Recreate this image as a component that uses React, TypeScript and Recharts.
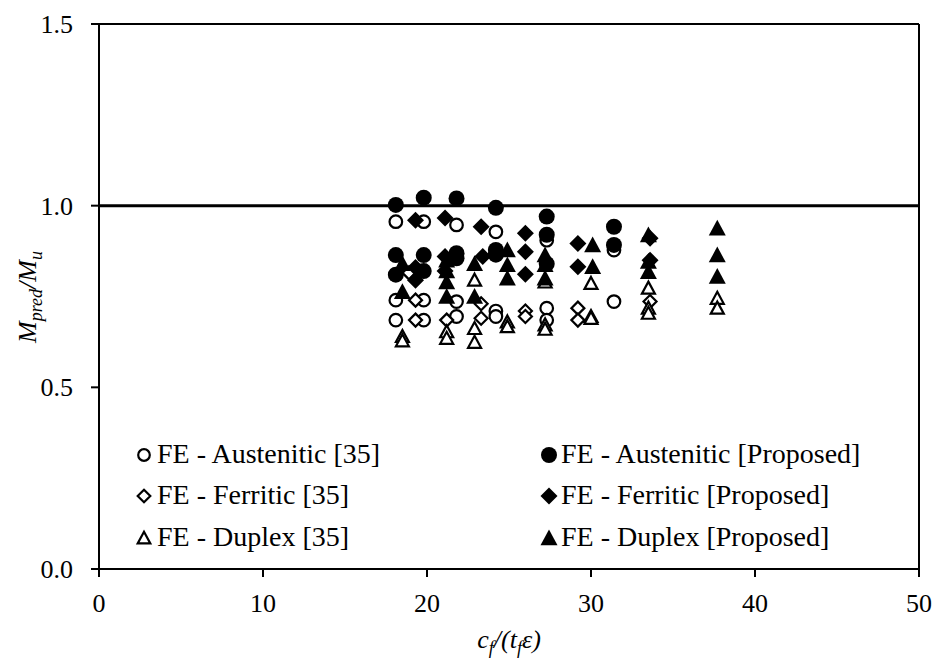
import React from 'react';
import { ScatterChart, Scatter, XAxis, YAxis, ReferenceLine, Legend } from 'recharts';

const FONT = "'Liberation Serif', 'Times New Roman', serif";

const xTicks = [0, 10, 20, 30, 40, 50];
const yTicks = [0, 0.5, 1.0, 1.5];

const austenitic35: [number, number][] = [
  [18.1, 0.956], [18.1, 0.74], [18.1, 0.685],
  [19.8, 0.956], [19.8, 0.74], [19.8, 0.685],
  [21.8, 0.947], [21.8, 0.736], [21.8, 0.695],
  [24.2, 0.928], [24.2, 0.71], [24.2, 0.695],
  [27.3, 0.905], [27.3, 0.718], [27.3, 0.685],
  [31.4, 0.878], [31.4, 0.736],
];

const austeniticProp: [number, number][] = [
  [18.1, 1.002], [18.1, 0.864], [18.1, 0.81],
  [19.8, 1.022], [19.8, 0.864], [19.8, 0.82],
  [21.8, 1.02], [21.8, 0.869], [21.8, 0.855],
  [24.2, 0.994], [24.2, 0.878], [24.2, 0.865],
  [27.3, 0.97], [27.3, 0.92], [27.3, 0.84],
  [31.4, 0.942], [31.4, 0.892],
];

const ferritic35: [number, number][] = [
  [18.9, 0.815], [19.3, 0.74], [19.3, 0.685],
  [21.2, 0.685],
  [23.3, 0.73], [23.3, 0.69],
  [26.0, 0.71], [26.0, 0.695],
  [29.2, 0.718], [29.2, 0.685],
  [33.6, 0.736],
];

const ferriticProp: [number, number][] = [
  [19.3, 0.96], [19.3, 0.83], [19.3, 0.795],
  [21.1, 0.966], [21.1, 0.86], [21.1, 0.82],
  [23.3, 0.942], [23.4, 0.86],
  [26.0, 0.924], [26.0, 0.873], [26.0, 0.811],
  [29.2, 0.896], [29.2, 0.832],
  [33.6, 0.91], [33.6, 0.85],
];

const duplex35: [number, number][] = [
  [18.5, 0.64], [18.5, 0.628],
  [21.2, 0.653], [21.2, 0.635],
  [22.9, 0.795], [22.9, 0.662], [22.9, 0.624],
  [24.9, 0.68], [24.9, 0.667],
  [27.2, 0.79], [27.2, 0.672], [27.2, 0.66],
  [30.0, 0.786], [30.0, 0.695], [30.0, 0.69],
  [33.5, 0.773], [33.5, 0.718], [33.5, 0.704],
  [37.7, 0.745], [37.7, 0.718],
];

const duplexProp: [number, number][] = [
  [18.5, 0.763], [18.5, 0.84],
  [21.2, 0.85], [21.2, 0.82], [21.2, 0.79], [21.2, 0.75],
  [22.9, 0.84], [22.9, 0.75],
  [24.9, 0.878], [24.9, 0.837], [24.9, 0.80],
  [27.2, 0.864], [27.2, 0.837], [27.2, 0.80],
  [30.1, 0.892], [30.1, 0.832],
  [33.5, 0.919], [33.5, 0.846], [33.5, 0.818],
  [37.7, 0.938], [37.7, 0.864], [37.7, 0.805],
];

const legendLabels = [
  'FE - Austenitic [35]',
  'FE - Austenitic [Proposed]',
  'FE - Ferritic [35]',
  'FE - Ferritic [Proposed]',
  'FE - Duplex [35]',
  'FE - Duplex [Proposed]',
];

const toPts = (a: [number, number][]) => a.map(([x, y]) => ({ x, y }));

const SW = 2.2;

const drawOpenCircle = (cx: number, cy: number, r = 6.3) => (
  <circle cx={cx} cy={cy} r={r} fill="#fff" stroke="#000" strokeWidth={SW} />
);
const drawFilledCircle = (cx: number, cy: number, r = 8) => (
  <circle cx={cx} cy={cy} r={r} fill="#000" />
);
const drawOpenDiamond = (cx: number, cy: number, s = 6.5) => (
  <polygon points={`${cx},${cy - s} ${cx + s},${cy} ${cx},${cy + s} ${cx - s},${cy}`} fill="#fff" stroke="#000" strokeWidth={SW} />
);
const drawFilledDiamond = (cx: number, cy: number, s = 8.5) => (
  <polygon points={`${cx},${cy - s} ${cx + s},${cy} ${cx},${cy + s} ${cx - s},${cy}`} fill="#000" />
);
const drawOpenTriangle = (cx: number, cy: number, s = 6.5) => (
  <polygon points={`${cx},${cy - s} ${cx + s},${cy + s * 0.85} ${cx - s},${cy + s * 0.85}`} fill="#fff" stroke="#000" strokeWidth={SW} strokeLinejoin="miter" />
);
const drawFilledTriangle = (cx: number, cy: number, s = 8.5) => (
  <polygon points={`${cx},${cy - s} ${cx + s},${cy + s * 0.85} ${cx - s},${cy + s * 0.85}`} fill="#000" />
);

const OpenCircle = (p: any) => drawOpenCircle(p.cx, p.cy);
const FilledCircle = (p: any) => drawFilledCircle(p.cx, p.cy);
const OpenDiamond = (p: any) => drawOpenDiamond(p.cx, p.cy);
const FilledDiamond = (p: any) => drawFilledDiamond(p.cx, p.cy);
const OpenTriangle = (p: any) => drawOpenTriangle(p.cx, p.cy);
const FilledTriangle = (p: any) => drawFilledTriangle(p.cx, p.cy);

const LegendContent = () => {
  const rows = [33, 74, 116];
  const leftM = 19, leftT = 32, rightM = 424, rightT = 436;
  const ts = { fontFamily: FONT, fontSize: 28, fill: '#000' } as const;
  return (
    <svg width={760} height={130} style={{ display: 'block', overflow: 'visible', fontFamily: FONT }}>
      {drawOpenCircle(leftM, rows[0] - 8, 5.8)}
      <text x={leftT} y={rows[0]} {...ts}>{legendLabels[0]}</text>
      {drawFilledCircle(rightM, rows[0] - 8, 8)}
      <text x={rightT} y={rows[0]} {...ts}>{legendLabels[1]}</text>
      {drawOpenDiamond(leftM, rows[1] - 8, 6.3)}
      <text x={leftT} y={rows[1]} {...ts}>{legendLabels[2]}</text>
      {drawFilledDiamond(rightM, rows[1] - 8, 8.5)}
      <text x={rightT} y={rows[1]} {...ts}>{legendLabels[3]}</text>
      {drawOpenTriangle(leftM, rows[2] - 8, 6.3)}
      <text x={leftT} y={rows[2]} {...ts}>{legendLabels[4]}</text>
      {drawFilledTriangle(rightM, rows[2] - 8, 8.5)}
      <text x={rightT} y={rows[2]} {...ts}>{legendLabels[5]}</text>
    </svg>
  );
};

const XLabel = () => (
  <text x={509} y={648} textAnchor="middle" fontFamily={FONT} fontSize={26} fontStyle="italic" fill="#000">
    <tspan>c</tspan>
    <tspan dy={6} fontSize={18}>f</tspan>
    <tspan dy={-6}>/(t</tspan>
    <tspan dy={6} fontSize={18}>f</tspan>
    <tspan dy={-6}>ε)</tspan>
  </text>
);

const YLabel = () => (
  <text x={0} y={0} transform="translate(36,297) rotate(-90)" textAnchor="middle" fontFamily={FONT} fontSize={26} fontStyle="italic" fill="#000">
    <tspan>M</tspan>
    <tspan dy={6} fontSize={18}>pred</tspan>
    <tspan dy={-6}>/M</tspan>
    <tspan dy={6} fontSize={18}>u</tspan>
  </text>
);

const XTick = (p: any) => (
  <text x={p.x} y={p.y} dy={18} textAnchor="middle" fontFamily={FONT} fontSize={26} fill="#000">
    {p.payload.value}
  </text>
);

const YTick = (p: any) => (
  <text x={p.x} y={p.y} dy={9} textAnchor="end" fontFamily={FONT} fontSize={26} fill="#000">
    {Number(p.payload.value).toFixed(1)}
  </text>
);

export default function App() {
  return (
    <div style={{ position: 'absolute', left: 0, top: 0, background: '#fff', fontFamily: FONT }}>
      <ScatterChart width={939} height={664} margin={{ top: 24, right: 20, bottom: 35, left: 0 }} style={{ fontFamily: FONT }}>
        <XAxis
          type="number"
          dataKey="x"
          domain={[0, 50]}
          ticks={xTicks}
          interval={0}
          axisLine={{ stroke: '#000', strokeWidth: 2 }}
          tickLine={{ stroke: '#000', strokeWidth: 2 }}
          tickSize={8}
          tickMargin={17}
          tick={<XTick />}
          height={60}
          label={{ content: () => <XLabel /> }}
        />
        <YAxis
          type="number"
          dataKey="y"
          domain={[0, 1.5]}
          ticks={yTicks}
          interval={0}
          axisLine={{ stroke: '#000', strokeWidth: 2 }}
          tickLine={{ stroke: '#000', strokeWidth: 2 }}
          tickSize={8}
          tickMargin={18}
          tick={<YTick />}
          width={99}
          label={{ content: () => <YLabel /> }}
        />
        <ReferenceLine y={1.5} stroke="#000" strokeWidth={2} />
        <ReferenceLine x={50} stroke="#000" strokeWidth={2} />
        <ReferenceLine y={1.0} stroke="#000" strokeWidth={3} />
        <Legend
          verticalAlign="middle"
          align="center"
          layout="horizontal"
          wrapperStyle={{ position: 'absolute', left: 125, top: 430, width: 760, height: 130 }}
          content={() => <LegendContent />}
        />
        <Scatter name={legendLabels[0]} data={toPts(austenitic35)} shape={OpenCircle} isAnimationActive={false} />
        <Scatter name={legendLabels[2]} data={toPts(ferritic35)} shape={OpenDiamond} isAnimationActive={false} />
        <Scatter name={legendLabels[4]} data={toPts(duplex35)} shape={OpenTriangle} isAnimationActive={false} />
        <Scatter name={legendLabels[1]} data={toPts(austeniticProp)} shape={FilledCircle} isAnimationActive={false} />
        <Scatter name={legendLabels[3]} data={toPts(ferriticProp)} shape={FilledDiamond} isAnimationActive={false} />
        <Scatter name={legendLabels[5]} data={toPts(duplexProp)} shape={FilledTriangle} isAnimationActive={false} />
      </ScatterChart>
    </div>
  );
}
